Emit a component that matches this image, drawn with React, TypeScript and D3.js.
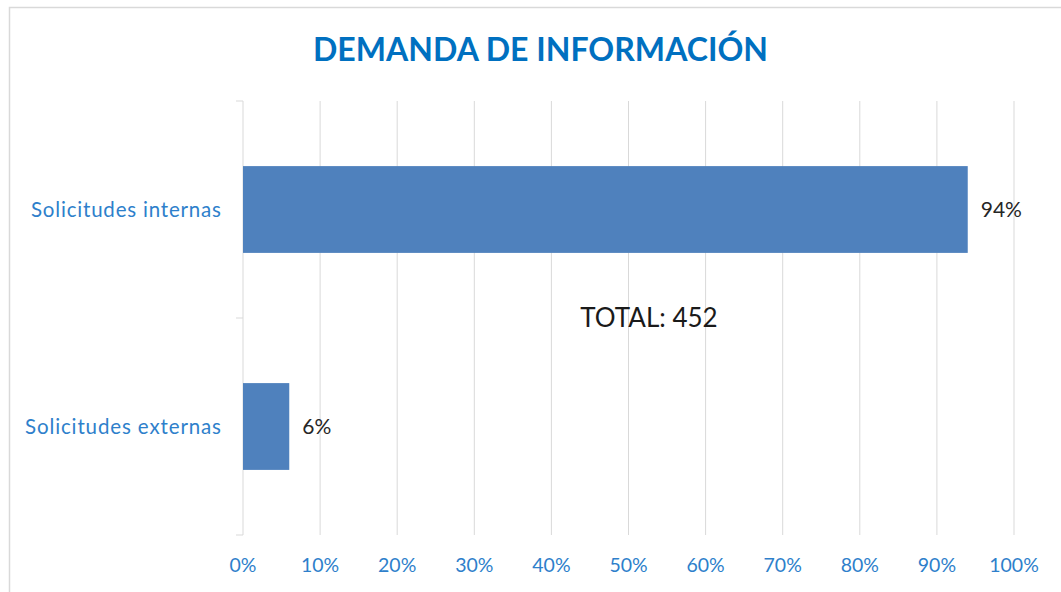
import React from "react";
import * as d3 from "d3";

const categories = ["Solicitudes internas", "Solicitudes externas"];
const values = [0.94, 0.06];
const valueLabels = ["94%", "6%"];
const xTicks = [0, 0.1, 0.2, 0.3, 0.4, 0.5, 0.6, 0.7, 0.8, 0.9, 1.0];
const title = "DEMANDA DE INFORMACIÓN";
const totalLabel = "TOTAL: 452";

const W = 1061;
const H = 592;
const FONT = "Lato, 'Open Sans', sans-serif";
const BLUE = "#2E7FCB";

export default function App() {
  const x = d3.scaleLinear().domain([0, 1]).range([243, 1014]);
  const y = d3.scaleBand().domain(categories).range([101, 535]).paddingInner(0.6).paddingOuter(0.3);
  const bandStep = (535 - 101) / categories.length;
  const fmt = d3.format(".0%");
  return (
    <svg width={W} height={H} style={{ position: "absolute", left: 0, top: 0, background: "#fff" }}>
      <rect x={9.5} y={7.5} width={W + 10} height={H + 10} fill="#fff" stroke="#d9d9d9" strokeWidth={1.5} />
      <text x={540.5} y={61} textAnchor="middle" fontFamily={FONT} fontWeight={700} fontSize={32} fill="#0070C0"
        textLength={455} lengthAdjust="spacingAndGlyphs">
        {title}
      </text>
      {xTicks.map((t) => (
        <line key={t} x1={x(t)} x2={x(t)} y1={101} y2={535} stroke="#d9d9d9" strokeWidth={1} />
      ))}
      {[0, 1, 2].map((i) => (
        <line key={"ct" + i} x1={236} x2={243} y1={101 + i * bandStep} y2={101 + i * bandStep} stroke="#d9d9d9" strokeWidth={1} />
      ))}
      {categories.map((c, i) => (
        <g key={c}>
          <rect x={x(0)} y={y(c)!} width={x(values[i]) - x(0)} height={y.bandwidth()} fill="#4F81BD" />
          <text x={x(values[i]) + 13} y={y(c)! + y.bandwidth() / 2} dy="0.35em" fontFamily={FONT} fontSize={21} fill="#262626">
            {valueLabels[i]}
          </text>
          <text x={221} y={y(c)! + y.bandwidth() / 2} dy="0.35em" textAnchor="end" fontFamily={FONT} fontSize={20.5} fill={BLUE}
            textLength={i === 0 ? 190 : 196} lengthAdjust="spacing">
            {c}
          </text>
        </g>
      ))}
      {xTicks.map((t) => (
        <text key={"l" + t} x={x(t)} y={565} dy="0.35em" textAnchor="middle" fontFamily={FONT} fontSize={19.5} fill={BLUE}>
          {fmt(t)}
        </text>
      ))}
      <text x={649} y={318} dy="0.35em" textAnchor="middle" fontFamily={FONT} fontSize={26} fill="#1a1a1a">
        {totalLabel}
      </text>
    </svg>
  );
}
